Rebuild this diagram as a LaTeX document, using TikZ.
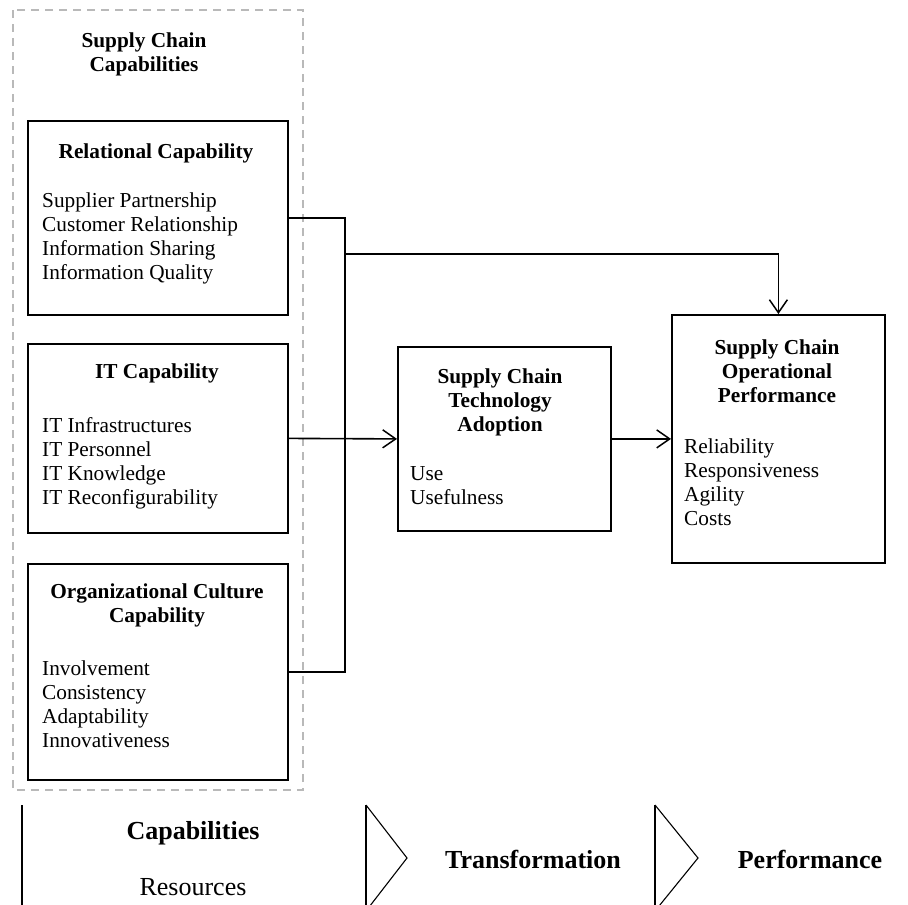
\documentclass[tikz,border=0pt]{standalone}
\usepackage{fontspec}
\setmainfont{Liberation Serif}
\usetikzlibrary{arrows.meta}
\begin{document}
\begin{tikzpicture}[x=1pt,y=-1pt,
  capbox/.style={draw,line width=1.8pt,minimum width=#1,inner sep=0pt,anchor=north west},
  title/.style={font=\fontsize{21.3}{24}\selectfont\bfseries,align=center,inner sep=0pt},
  items/.style={font=\fontsize{21.3}{24}\selectfont,align=left,anchor=west,inner sep=0pt},
  link/.style={line width=1.6pt},
  arr/.style={link,-{Straight Barb[length=13pt,width=18pt,line width=1.5pt]}},
  stage/.style={font=\fontsize{26}{30}\selectfont\bfseries,inner sep=0pt},
  stageline/.style={line width=1.7pt}]
\useasboundingbox (0,0) rectangle (908,905);
\clip (0,0) rectangle (908,905);

% dashed frame around the capability group
\draw[gray!55,line width=1.2pt,dash pattern=on 8pt off 6pt] (13,10) rectangle (303,790);
\node[title] (grp) at (144,54) {Supply Chain\\Capabilities};

% capability boxes
\node[capbox=260pt,minimum height=194pt] (rel) at (27,120) {};
\node[capbox=260pt,minimum height=189pt] (it) at (27,343) {};
\node[capbox=260pt,minimum height=216pt] (org) at (27,563) {};

\node[title] (relT) at (156,153) {Relational Capability};
\node[items] (relI) at (42,238) {Supplier Partnership\\Customer Relationship\\Information Sharing\\Information Quality};

\node[title] (itT) at (157,373) {IT Capability};
\node[items] (itI) at (42,463) {IT Infrastructures\\IT Personnel\\IT Knowledge\\IT Reconfigurability};

\node[title] (orgT) at (157,605) {Organizational Culture\\Capability};
\node[items] (orgI) at (42,704) {Involvement\\Consistency\\Adaptability\\Innovativeness};

% adoption and performance boxes
\node[capbox=213pt,minimum height=184pt] (adop) at (397,346) {};
\node[title] (adopT) at (500,402) {Supply Chain\\Technology\\Adoption};
\node[items] (adopI) at (410,486) {Use\\Usefulness};

\node[capbox=213pt,minimum height=248pt] (perf) at (671,314) {};
\node[title] (perfT) at (777,371) {Supply Chain\\Operational\\Performance};
\node[items] (perfI) at (684,482) {Reliability\\Responsiveness\\Agility\\Costs};

% connectors
\coordinate (spine) at (345,254);
\draw[link] (rel.east) -- (rel.east -| spine) -- (org.east -| spine) -- (org.east);
\draw[arr] (spine) -| (perf.north);
\draw[arr] (it.east) -- (adop.west);
\draw[arr] (adop.east) -- (perf.west);

% stage strip along the bottom
\coordinate (s0) at (22,805);
\coordinate (s1) at (366,805);
\coordinate (s2) at (655,805);
\draw[stageline] (s0) -- ++(0,100);
\draw[stageline] (s1) -- ++(0,106);
\draw[line width=1.1pt] (s1) -- ++(41,53) -- ++(-41,53);
\draw[stageline] (s2) -- ++(0,106);
\draw[line width=1.1pt] (s2) -- ++(43,53) -- ++(-43,53);

\node[stage] (cap) at (193,833) {Capabilities};
\node[font=\fontsize{26}{30}\selectfont,inner sep=0pt] (res) at (193,887) {Resources};
\node[stage] (trans) at (533,859) {Transformation};
\node[stage] (perfS) at (810,859) {Performance};
\end{tikzpicture}
\end{document}
